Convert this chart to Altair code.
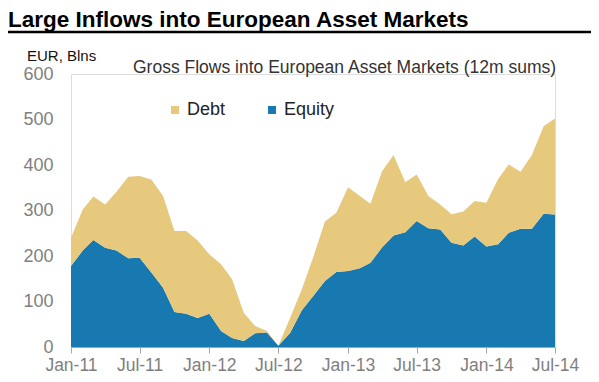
import altair as alt
import pandas as pd

# ---- data ----
months = [
    "2011-01", "2011-02", "2011-03", "2011-04", "2011-05", "2011-06",
    "2011-07", "2011-08", "2011-09", "2011-10", "2011-11", "2011-12",
    "2012-01", "2012-02", "2012-03", "2012-04", "2012-05", "2012-06",
    "2012-07", "2012-08", "2012-09", "2012-10", "2012-11", "2012-12",
    "2013-01", "2013-02", "2013-03", "2013-04", "2013-05", "2013-06",
    "2013-07", "2013-08", "2013-09", "2013-10", "2013-11", "2013-12",
    "2014-01", "2014-02", "2014-03", "2014-04", "2014-05", "2014-06",
    "2014-07",
]
equity = [178, 212, 235, 218, 212, 195, 196, 164, 130, 77, 73, 64,
          73, 35, 20, 13, 30, 32, 3, 31, 81, 112, 145, 165,
          167, 173, 185, 219, 245, 252, 277, 261, 258, 229, 223, 243,
          221, 226, 251, 260, 260, 293, 291]
debt = [62, 90, 96, 95, 129, 179, 180, 204, 202, 178, 182, 170,
        131, 147, 129, 62, 16, 3, 0, 33, 46, 85, 131, 130,
        184, 159, 130, 168, 177, 110, 102, 71, 55, 63, 75, 78,
        96, 143, 150, 125, 162, 192, 211]
series_names = ["Debt", "Equity"]
tick_months = [(2011, 1), (2011, 7), (2012, 1), (2012, 7), (2013, 1),
               (2013, 7), (2014, 1), (2014, 7)]
y_ticks = [0, 100, 200, 300, 400, 500, 600]

title_text = "Large Inflows into European Asset Markets"
subtitle_text = "Gross Flows into European Asset Markets (12m sums)"
unit_text = "EUR, Blns"

TAN = "#E7C97E"
BLUE = "#1779B0"
GRAY = "#7F7F7F"
FONT = "Liberation Sans"

rows = []
for m, e, d in zip(months, equity, debt):
    dt = pd.Timestamp(m + "-01")
    rows.append({"date": dt, "series": "Equity", "value": e, "order": 0})
    rows.append({"date": dt, "series": "Debt", "value": d, "order": 1})
df = pd.DataFrame(rows)

x_values = [alt.DateTime(year=y, month=mo, date=1) for y, mo in tick_months]

area = alt.Chart(df).mark_area(interpolate="linear").encode(
    x=alt.X(
        "date:T",
        title=None,
        scale=alt.Scale(domain=[x_values[0], x_values[-1]], nice=False),
        axis=alt.Axis(
            values=x_values, format="%b-%y", grid=False,
            domainColor="#A6A6A6", tickColor="#A6A6A6", tickSize=6,
            labelFontSize=17.5, labelColor=GRAY, labelPadding=3,
            labelFont=FONT, labelFlush=False,
        ),
    ),
    y=alt.Y(
        "value:Q",
        stack="zero",
        title=None,
        scale=alt.Scale(domain=[0, 600], nice=False),
        axis=alt.Axis(
            values=y_ticks, grid=False, domain=False, ticks=False,
            labelFontSize=18, labelColor=GRAY, labelPadding=18,
            labelFont=FONT,
        ),
    ),
    color=alt.Color(
        "series:N",
        scale=alt.Scale(domain=series_names, range=[TAN, BLUE]),
        legend=alt.Legend(
            orient="none", legendX=95, legendY=27, direction="horizontal",
            title=None, symbolType="square", symbolSize=64,
            symbolStrokeWidth=0, labelFontSize=18, labelColor="#222222",
            labelFont=FONT, columnPadding=37, labelOffset=3, padding=0,
        ),
    ),
    order=alt.Order("order:Q"),
)

one = pd.DataFrame({"k": [0]})

title = alt.Chart(one).mark_text(
    text=title_text, font=FONT, fontSize=22.5, fontWeight="bold",
    align="left", baseline="top", color="#000000",
).encode(x=alt.value(-63), y=alt.value(-65))

rule = alt.Chart(one).mark_rule(color="#000000", strokeWidth=2.5).encode(
    x=alt.value(-65), x2=alt.value(522), y=alt.value(-42)
)

unit = alt.Chart(one).mark_text(
    text=unit_text, font=FONT, fontSize=15, align="left",
    baseline="alphabetic", color="#111111",
).encode(x=alt.value(-44), y=alt.value(-13))

subtitle = alt.Chart(one).mark_text(
    text=subtitle_text, font=FONT, fontSize=17.5, align="left",
    baseline="alphabetic", color="#333333",
).encode(x=alt.value(62), y=alt.value(-1))

chart = alt.layer(area, title, rule, unit, subtitle).properties(
    width=484,
    height=273,
    autosize=alt.AutoSizeParams(type="none"),
    padding={"left": 63, "top": 66, "right": 36, "bottom": 27},
).configure_view(stroke=None).configure(font=FONT)

chart.save("out.html", embed_options={"renderer": "svg", "actions": False})
